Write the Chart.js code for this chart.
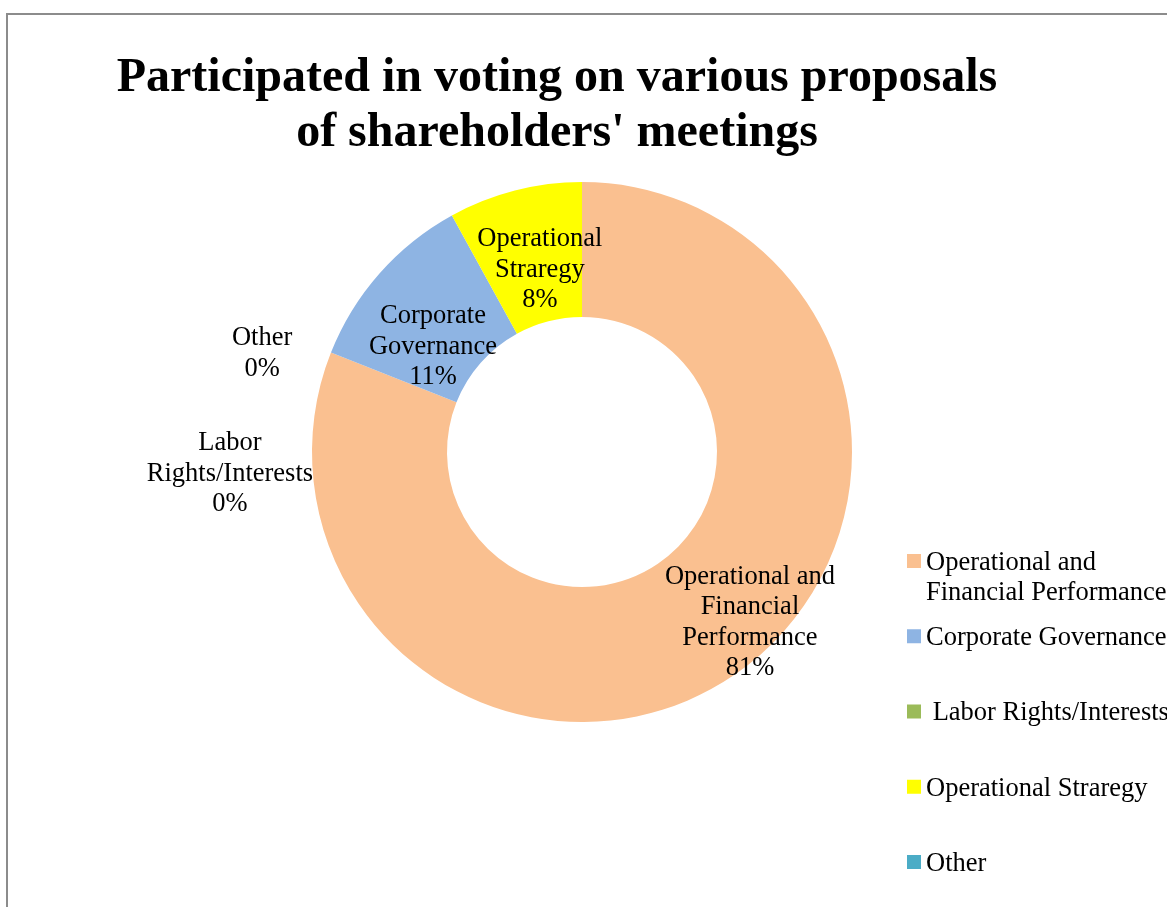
<!DOCTYPE html>
<html>
<head>
<meta charset="utf-8">
<script src="https://cdn.jsdelivr.net/npm/chart.js@4/dist/chart.umd.min.js"></script>
<style>
  html, body { margin: 0; padding: 0; background: #fff; overflow: hidden; }
  #wrap { position: relative; width: 1167px; height: 907px; }
  #frame { position: absolute; left: 6px; top: 13px; width: 1400px; height: 1100px;
           border: 2px solid #8c8c8c; box-sizing: border-box; }
  canvas { position: absolute; left: 0; top: 0; }
</style>
</head>
<body>
<div id="wrap">
  <div id="frame"></div>
  <canvas id="chart" width="1167" height="907"></canvas>
</div>
<script>
// Slices in drawing order (clockwise from 12 o'clock)
const categories = [
  'Operational and Financial Performance',
  'Labor Rights/Interests',
  'Other',
  'Corporate Governance',
  'Operational Straregy'
];
const shares = [81, 0, 0, 11, 8];

// Wrapped text used inside / beside each slice
const sliceLabelLines = [
  ['Operational and', 'Financial', 'Performance'],
  ['Labor', 'Rights/Interests'],
  ['Other'],
  ['Corporate', 'Governance'],
  ['Operational', 'Straregy']
];

// Legend entries (index into categories) and their wrapped text
const legendOrder = [0, 3, 1, 4, 2];
const legendLines = [
  ['Operational and', 'Financial Performance'],
  [' Labor Rights/Interests'],
  ['Other'],
  ['Corporate Governance'],
  ['Operational Straregy']
];

const titleLines = ['Participated in voting on various proposals', "of shareholders' meetings"];

const sliceColors = ['#FAC090', '#9BBB59', '#4BACC6', '#8EB4E3', '#FFFF00'];

// Label anchors relative to the doughnut centre, in units of outer radius
const labelAnchor = [
  [0.622, 0.632],
  [-1.304, 0.080],
  [-1.185, -0.364],
  [-0.552, -0.390],
  [-0.156, -0.675]
];

const SERIF = '"Liberation Serif", "Times New Roman", serif';

const decorations = {
  id: 'decorations',
  afterDraw(chart) {
    const ctx = chart.ctx;
    const arc = chart.getDatasetMeta(0).data[0];
    const cx = arc.x, cy = arc.y, R = arc.outerRadius;
    ctx.save();
    ctx.fillStyle = '#000';

    // Title
    ctx.font = 'bold 48px ' + SERIF;
    ctx.textAlign = 'center';
    ctx.textBaseline = 'alphabetic';
    titleLines.forEach((t, i) => ctx.fillText(t, 557, 91 + i * 55));

    // Slice labels
    ctx.font = '26.5px ' + SERIF;
    ctx.textBaseline = 'middle';
    const lh = 30.6;
    shares.forEach((v, i) => {
      const lines = sliceLabelLines[i].concat([v + '%']);
      const x = cx + labelAnchor[i][0] * R;
      const y0 = cy + labelAnchor[i][1] * R - (lines.length - 1) * lh / 2;
      lines.forEach((t, k) => ctx.fillText(t, x, y0 + k * lh));
    });

    // Legend
    ctx.textAlign = 'left';
    legendOrder.forEach((idx, n) => {
      const y = 561 + n * 75.25;
      ctx.fillStyle = sliceColors[idx];
      ctx.fillRect(907, y - 7, 14, 14);
      ctx.fillStyle = '#000';
      legendLines[idx].forEach((t, k) => ctx.fillText(t, 926, y + 2 + k * 30));
    });
    ctx.restore();
  }
};

new Chart(document.getElementById('chart'), {
  type: 'doughnut',
  data: {
    labels: categories,
    datasets: [{
      data: shares,
      backgroundColor: sliceColors,
      borderWidth: 0,
      hoverOffset: 0
    }]
  },
  options: {
    responsive: false,
    animation: false,
    cutout: '50%',
    layout: { padding: { left: 312, right: 315, top: 182, bottom: 185 } },
    plugins: {
      legend: { display: false },
      title: { display: false },
      tooltip: { enabled: false }
    }
  },
  plugins: [decorations]
});
</script>
</body>
</html>
